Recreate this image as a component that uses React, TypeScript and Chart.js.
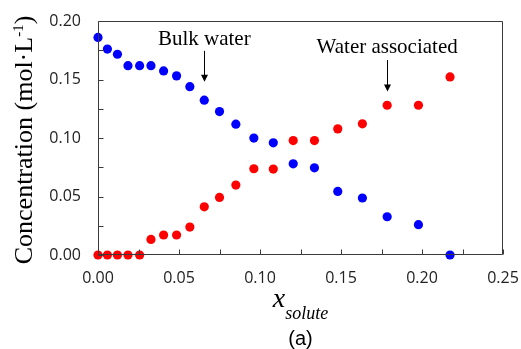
import { useEffect, useRef } from 'react';
import { Chart, registerables } from 'chart.js';

Chart.register(...registerables);

const xSolute = [0, 0.0058, 0.012, 0.0185, 0.0257, 0.0327, 0.0405, 0.0485, 0.0567, 0.0656, 0.075, 0.0851, 0.0962, 0.1082, 0.1205, 0.1336, 0.148, 0.1632, 0.1785, 0.1978, 0.2173];
const bulkWater = [0.186, 0.176, 0.1716, 0.1618, 0.1618, 0.1618, 0.1573, 0.1531, 0.1439, 0.1323, 0.1226, 0.1118, 0.0999, 0.0959, 0.0779, 0.0745, 0.0543, 0.0487, 0.0327, 0.0259, 0];
const waterAssociated = [0, 0, 0, 0, 0, 0.0133, 0.0171, 0.0171, 0.0239, 0.0412, 0.0492, 0.0598, 0.0737, 0.0734, 0.0978, 0.0978, 0.1078, 0.1121, 0.128, 0.128, 0.1522];
const xTickLabels = ['0.00', '0.05', '0.10', '0.15', '0.20', '0.25'];
const yTickLabels = ['0.00', '0.05', '0.10', '0.15', '0.20'];

const annotations = [
  { text: 'Bulk water', x: 0.0656, textY: 0.1795, arrowTop: 0.1745, arrowTip: 0.148 },
  { text: 'Water associated', x: 0.1785, textY: 0.1724, arrowTop: 0.1666, arrowTip: 0.1397 },
];

const AXIS = '#3a3a3a';
const SERIF = '"Liberation Serif", "Times New Roman", serif';

const decorPlugin = {
  id: 'decor',
  afterDraw(chart: any) {
    const { ctx, chartArea, scales } = chart;
    const xs = scales.x;
    const ys = scales.y;
    const L = Math.round(chartArea.left) + 0.5;
    const R = Math.round(chartArea.right) - 0.5;
    const T = Math.round(chartArea.top) + 0.5;
    const B = Math.round(chartArea.bottom) - 0.5;
    ctx.save();
    // frame
    ctx.strokeStyle = AXIS;
    ctx.lineWidth = 1;
    ctx.beginPath();
    ctx.rect(L, T, R - L, B - T);
    ctx.stroke();
    // inward ticks
    ctx.beginPath();
    xs.ticks.forEach((t: any) => {
      const px = Math.round(xs.getPixelForValue(t.value)) + 0.5;
      ctx.moveTo(px, B);
      ctx.lineTo(px, B - 5);
    });
    ys.ticks.forEach((t: any) => {
      const py = Math.round(ys.getPixelForValue(t.value)) + 0.5;
      ctx.moveTo(L, py);
      ctx.lineTo(L + 5, py);
    });
    ctx.stroke();
    // annotations
    ctx.fillStyle = '#000';
    ctx.strokeStyle = '#000';
    ctx.font = `21px ${SERIF}`;
    ctx.textAlign = 'center';
    ctx.textBaseline = 'alphabetic';
    annotations.forEach((a) => {
      const px = xs.getPixelForValue(a.x);
      ctx.fillText(a.text, px, ys.getPixelForValue(a.textY));
      const top = ys.getPixelForValue(a.arrowTop);
      const tip = ys.getPixelForValue(a.arrowTip);
      const lx = Math.round(px) + 0.5;
      ctx.beginPath();
      ctx.moveTo(lx, top);
      ctx.lineTo(lx, tip - 6);
      ctx.stroke();
      ctx.beginPath();
      ctx.moveTo(lx - 3.5, tip - 7);
      ctx.lineTo(lx + 3.5, tip - 7);
      ctx.lineTo(lx, tip);
      ctx.closePath();
      ctx.fill();
    });
    // x title with subscript
    const cx = (chartArea.left + chartArea.right) / 2;
    ctx.textAlign = 'left';
    ctx.font = `italic 28px ${SERIF}`;
    const wx = ctx.measureText('x').width;
    ctx.font = `italic 18px ${SERIF}`;
    const ws = ctx.measureText('solute').width;
    const x0 = cx - (wx + ws) / 2;
    ctx.font = `italic 28px ${SERIF}`;
    ctx.fillText('x', x0, 307);
    ctx.font = `italic 18px ${SERIF}`;
    ctx.fillText('solute', x0 + wx, 319);
    // (a)
    ctx.textAlign = 'center';
    ctx.font = '20px "Liberation Sans", Arial, sans-serif';
    ctx.fillText('(a)', cx, 345);
    // y title rotated with superscript
    ctx.translate(32, 140);
    ctx.rotate(-Math.PI / 2);
    ctx.textAlign = 'left';
    const main = 'Concentration (mol·L';
    const sup = '-1';
    const close = ')';
    ctx.font = `26px ${SERIF}`;
    const wm = ctx.measureText(main).width;
    const wc = ctx.measureText(close).width;
    ctx.font = `15px ${SERIF}`;
    const wsu = ctx.measureText(sup).width;
    let sx = -(wm + wsu + wc) / 2;
    ctx.font = `26px ${SERIF}`;
    ctx.fillText(main, sx, 0);
    sx += wm;
    ctx.font = `15px ${SERIF}`;
    ctx.fillText(sup, sx, -9);
    sx += wsu;
    ctx.font = `26px ${SERIF}`;
    ctx.fillText(close, sx, 0);
    ctx.restore();
  },
};

export default function App() {
  const ref = useRef<HTMLCanvasElement>(null);
  useEffect(() => {
    document.body.style.margin = '0';
    const canvas = ref.current;
    if (!canvas) return;
    const tickFont = { family: '"Open Sans", sans-serif', size: 16 };
    const chart = new Chart(canvas, {
      type: 'scatter',
      data: {
        datasets: [
          {
            label: 'Bulk water',
            data: xSolute.map((x, i) => ({ x, y: bulkWater[i] })),
            backgroundColor: '#0000ff',
            borderWidth: 0,
            pointRadius: 4.6,
            clip: false as any,
          },
          {
            label: 'Water associated',
            data: xSolute.map((x, i) => ({ x, y: waterAssociated[i] })),
            backgroundColor: '#ff0000',
            borderWidth: 0,
            pointRadius: 4.6,
            clip: false as any,
          },
        ],
      },
      plugins: [decorPlugin],
      options: {
        animation: false,
        responsive: false,
        devicePixelRatio: 1,
        layout: { padding: { left: 0, right: 18, top: 21, bottom: 0 } },
        plugins: { legend: { display: false }, tooltip: { enabled: false } },
        scales: {
          x: {
            type: 'linear',
            min: 0,
            max: 0.25,
            grid: { display: false, drawTicks: false },
            border: { display: false },
            ticks: {
              stepSize: 0.025,
              autoSkip: false,
              maxRotation: 0,
              padding: 14,
              color: '#222',
              font: tickFont,
              callback: (_v: any, i: number) => (i % 2 === 0 ? xTickLabels[i / 2] : ''),
            },
            afterFit: (s: any) => { s.height = 94; s.paddingLeft = 0; s.paddingRight = 0; },
          },
          y: {
            type: 'linear',
            min: 0,
            max: 0.2,
            grid: { display: false, drawTicks: false },
            border: { display: false },
            ticks: {
              stepSize: 0.025,
              autoSkip: false,
              padding: 17,
              color: '#222',
              font: tickFont,
              callback: (_v: any, i: number) => (i % 2 === 0 ? yTickLabels[i / 2] : ''),
            },
            afterFit: (s: any) => { s.width = 98; s.paddingTop = 0; s.paddingBottom = 0; },
          },
        },
      },
    });
    return () => chart.destroy();
  }, []);
  return (
    <div style={{ position: 'fixed', left: 0, top: 0, width: 521, height: 349, background: '#fff' }}>
      <canvas ref={ref} width={521} height={349} />
    </div>
  );
}
